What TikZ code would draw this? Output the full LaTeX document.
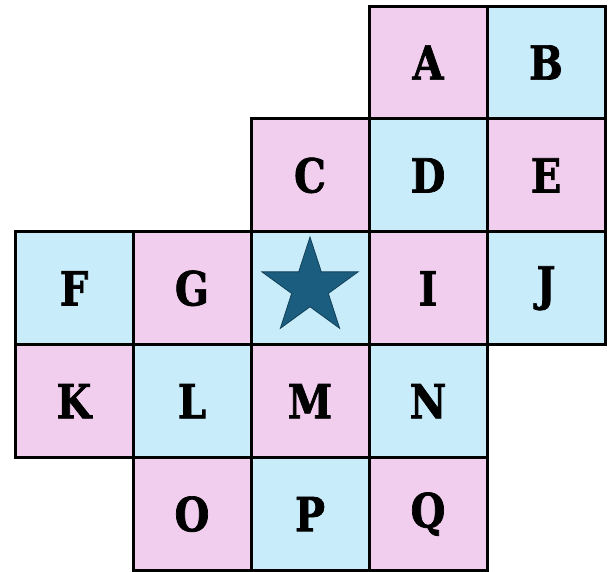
\documentclass[tikz,border=0pt]{standalone}
\usepackage{fontspec}
\newfontfamily\lab{DejaVu Serif}[FakeStretch=0.85,FakeBold=1.5]
\usetikzlibrary{shapes.geometric}
\definecolor{cpink}{HTML}{F2CEEE}
\definecolor{cblue}{HTML}{C9ECFA}
\definecolor{cstar}{HTML}{1B5D7F}
\tikzset{
  cell/.style={draw=black, line width=3pt, minimum width=118pt, minimum height=112.9pt, inner sep=0pt, font=\lab\bfseries\fontsize{47}{50}\selectfont, text=black},
  pk/.style={cell, fill=cpink},
  bl/.style={cell, fill=cblue},
  starshape/.style={star, star points=5, star point ratio=2.618, minimum size=101pt, inner sep=0pt, fill=cstar, draw=cstar!70!black, line width=0.8pt}
}
\begin{document}
\begin{tikzpicture}[x=1pt,y=-1pt]
\useasboundingbox (0,0) rectangle (611,572);
\node[pk] (A) at (428,62.5) {A};
\node[bl] (B) at (546,62.5) {B};
\node[pk] (C) at (310,175.4) {C};
\node[bl] (D) at (428,175.4) {D};
\node[pk] (E) at (546,175.4) {E};
\node[bl] (F) at (74,288.3) {F};
\node[pk] (G) at (192,288.3) {G};
\node[bl] (H) at (310,288.3) {};
\node[pk] (I) at (428,288.3) {I};
\node[bl] (J) at (546,288.3) {J};
\node[pk] (K) at (74,401.2) {K};
\node[bl] (L) at (192,401.2) {L};
\node[pk] (M) at (310,401.2) {M};
\node[bl] (N) at (428,401.2) {N};
\node[pk] (O) at (192,514.1) {O};
\node[bl] (P) at (310,514.1) {P};
\node[pk] (Q) at (428,514.1) {Q};
\node[starshape] (S) at (310,287.5) {};
\end{tikzpicture}
\end{document}
